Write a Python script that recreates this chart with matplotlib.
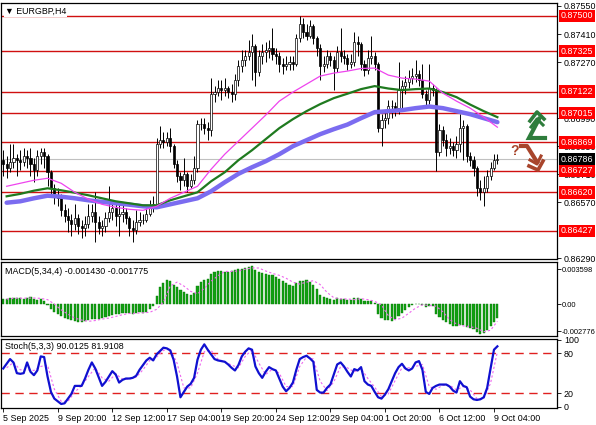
import numpy as np
import matplotlib
matplotlib.use("Agg")
import matplotlib.pyplot as plt
import matplotlib.transforms as mtransforms

plt.rcParams["font.family"] = ["Liberation Sans", "DejaVu Sans"]

# ---- price data (H4 bars, 5 Sep 04:00 .. 9 Oct 08:00) ----
closes = [
    0.86760, 0.86740, 0.86770, 0.86790, 0.86780, 0.86770, 0.86800, 0.86790, 0.86760, 0.86730,
    0.86800, 0.86820, 0.86800, 0.86720, 0.86640, 0.86600, 0.86590, 0.86530, 0.86500, 0.86480,
    0.86460, 0.86490, 0.86450, 0.86440, 0.86460, 0.86500, 0.86520, 0.86470, 0.86440, 0.86450,
    0.86490, 0.86520, 0.86540, 0.86500, 0.86510, 0.86520, 0.86490, 0.86440, 0.86430, 0.86470,
    0.86480, 0.86480, 0.86510, 0.86540, 0.86560, 0.86860, 0.86880, 0.86870, 0.86890, 0.86850,
    0.86760, 0.86700, 0.86680, 0.86710, 0.86650, 0.86680, 0.86740, 0.86960, 0.86960, 0.86940,
    0.86930, 0.87110, 0.87120, 0.87140, 0.87130, 0.87140, 0.87120, 0.87110, 0.87180, 0.87250,
    0.87280, 0.87300, 0.87320, 0.87350, 0.87220, 0.87300, 0.87320, 0.87330, 0.87340, 0.87310,
    0.87300, 0.87260, 0.87250, 0.87260, 0.87270, 0.87260, 0.87390, 0.87460, 0.87420, 0.87400,
    0.87450, 0.87390, 0.87340, 0.87250, 0.87260, 0.87300, 0.87280, 0.87240, 0.87320, 0.87300,
    0.87290, 0.87260, 0.87270, 0.87370, 0.87360, 0.87260, 0.87230, 0.87290, 0.87300, 0.87260,
    0.86940, 0.86980, 0.86990, 0.87050, 0.87050, 0.87040, 0.87130, 0.87150, 0.87170, 0.87190,
    0.87200, 0.87210, 0.87180, 0.87110, 0.87080, 0.87140, 0.87130, 0.86820, 0.86930, 0.86880,
    0.86840, 0.86850, 0.86830, 0.86860, 0.86940, 0.86950, 0.86800, 0.86780, 0.86740, 0.86640,
    0.86620, 0.86640, 0.86700, 0.86740, 0.86780, 0.86786,
]
highs = [
    0.86830, 0.86800, 0.86860, 0.86860, 0.86810, 0.86830, 0.86840, 0.86830, 0.86840, 0.86790,
    0.86830, 0.86840, 0.86840, 0.86810, 0.86730, 0.86660, 0.86640, 0.86610, 0.86560, 0.86540,
    0.86510, 0.86560, 0.86510, 0.86480, 0.86500, 0.86560, 0.86560, 0.86620, 0.86500, 0.86480,
    0.86520, 0.86650, 0.86580, 0.86560, 0.86570, 0.86560, 0.86540, 0.86500, 0.86480, 0.86530,
    0.86520, 0.86510, 0.86540, 0.86580, 0.86600, 0.86890, 0.86950, 0.86920, 0.86920, 0.86940,
    0.86860, 0.86780, 0.86720, 0.86790, 0.86720, 0.86710, 0.86800, 0.86980, 0.86990, 0.86990,
    0.86970, 0.87190, 0.87150, 0.87180, 0.87180, 0.87190, 0.87150, 0.87160, 0.87210, 0.87280,
    0.87330, 0.87330, 0.87380, 0.87410, 0.87360, 0.87330, 0.87360, 0.87370, 0.87380, 0.87440,
    0.87340, 0.87320, 0.87290, 0.87300, 0.87300, 0.87300, 0.87410, 0.87500, 0.87490, 0.87460,
    0.87480, 0.87460, 0.87400, 0.87360, 0.87300, 0.87330, 0.87320, 0.87300, 0.87350, 0.87440,
    0.87330, 0.87310, 0.87310, 0.87420, 0.87400, 0.87370, 0.87280, 0.87330, 0.87400, 0.87320,
    0.87270, 0.87010, 0.87020, 0.87080, 0.87080, 0.87070, 0.87270, 0.87180, 0.87200, 0.87230,
    0.87240, 0.87280, 0.87230, 0.87260, 0.87130, 0.87260, 0.87160, 0.87140, 0.86960, 0.86950,
    0.86910, 0.86890, 0.86870, 0.86900, 0.87010, 0.86980, 0.86960, 0.86820, 0.86800, 0.86750,
    0.86680, 0.86700, 0.86730, 0.86770, 0.86810, 0.86810,
]
lows = [
    0.86700, 0.86690, 0.86720, 0.86740, 0.86700, 0.86730, 0.86750, 0.86740, 0.86700, 0.86670,
    0.86700, 0.86760, 0.86740, 0.86650, 0.86610, 0.86560, 0.86550, 0.86500, 0.86470, 0.86420,
    0.86400, 0.86430, 0.86410, 0.86390, 0.86400, 0.86440, 0.86470, 0.86370, 0.86410, 0.86400,
    0.86420, 0.86470, 0.86480, 0.86450, 0.86400, 0.86470, 0.86460, 0.86400, 0.86370, 0.86410,
    0.86450, 0.86460, 0.86470, 0.86500, 0.86520, 0.86540, 0.86840, 0.86840, 0.86850, 0.86820,
    0.86740, 0.86670, 0.86630, 0.86650, 0.86620, 0.86640, 0.86660, 0.86720, 0.86930, 0.86910,
    0.86880, 0.86900, 0.87070, 0.87100, 0.87080, 0.87100, 0.87090, 0.87070, 0.87080, 0.87150,
    0.87220, 0.87250, 0.87280, 0.87180, 0.87150, 0.87200, 0.87260, 0.87270, 0.87290, 0.87280,
    0.87260, 0.87220, 0.87210, 0.87230, 0.87230, 0.87230, 0.87250, 0.87370, 0.87390, 0.87380,
    0.87390, 0.87360, 0.87300, 0.87180, 0.87220, 0.87240, 0.87250, 0.87130, 0.87220, 0.87270,
    0.87260, 0.87230, 0.87240, 0.87250, 0.87300, 0.87230, 0.87200, 0.87210, 0.87260, 0.87230,
    0.86920, 0.86850, 0.86940, 0.86960, 0.86990, 0.87000, 0.87010, 0.87040, 0.87110, 0.87140,
    0.87160, 0.87170, 0.87150, 0.87090, 0.87050, 0.87060, 0.87100, 0.86727, 0.86800, 0.86850,
    0.86800, 0.86810, 0.86800, 0.86790, 0.86820, 0.86780, 0.86770, 0.86750, 0.86700, 0.86600,
    0.86580, 0.86550, 0.86620, 0.86680, 0.86730, 0.86760,
]
first_open = 0.86780
opens = [first_open] + closes[:-1]

# moving averages, read every 4 bars
ma_bars = [1, 5, 9, 13, 17, 21, 25, 29, 33, 37, 41, 45, 49, 53, 57, 61, 65, 69, 73,
           77, 81, 85, 89, 93, 97, 101, 105, 109, 113, 117, 121, 125, 129, 133, 137, 141, 145]
ma_fast = [0.86650, 0.86665, 0.86680, 0.86690, 0.86665, 0.86620, 0.86585, 0.86560, 0.86545, 0.86535,
           0.86530, 0.86550, 0.86590, 0.86620, 0.86650, 0.86735, 0.86810, 0.86875, 0.86940,
           0.87005, 0.87075, 0.87120, 0.87160, 0.87200, 0.87215, 0.87225, 0.87238, 0.87240, 0.87205,
           0.87190, 0.87185, 0.87175, 0.87115, 0.87075, 0.87040, 0.86995, 0.86945]
ma_mid = [0.86600, 0.86612, 0.86628, 0.86640, 0.86630, 0.86618, 0.86605, 0.86590, 0.86575, 0.86565,
          0.86555, 0.86555, 0.86580, 0.86600, 0.86620, 0.86675, 0.86720, 0.86780, 0.86830,
          0.86885, 0.86940, 0.86985, 0.87025, 0.87060, 0.87090, 0.87112, 0.87135, 0.87150, 0.87138,
          0.87130, 0.87135, 0.87138, 0.87120, 0.87095, 0.87058, 0.87025, 0.86995]
ma_slow = [0.86568, 0.86575, 0.86590, 0.86603, 0.86598, 0.86590, 0.86580, 0.86572, 0.86565, 0.86558,
           0.86550, 0.86545, 0.86560, 0.86575, 0.86590, 0.86625, 0.86670, 0.86712, 0.86745,
           0.86775, 0.86810, 0.86850, 0.86880, 0.86910, 0.86935, 0.86958, 0.86990, 0.87020, 0.87025,
           0.87030, 0.87040, 0.87048, 0.87040, 0.87025, 0.87010, 0.86990, 0.86970]

levels = [0.87500, 0.87325, 0.87122, 0.87015, 0.86869, 0.86727, 0.86620, 0.86427]
last_price = 0.86786
price_ticks = [0.87550, 0.87410, 0.87270, 0.86990, 0.86850, 0.86710, 0.86570, 0.86290]

# MACD(5,34,4) histogram, x1e-3
macd = [
    0.50, 0.55, 0.60, 0.60, 0.65, 0.60, 0.55, 0.60, 0.70, 0.55,
    0.45, 0.55, 0.35, -0.10, -0.50, -0.80, -1.00, -1.20, -1.40, -1.50,
    -1.60, -1.70, -1.80, -1.80, -1.75, -1.65, -1.55, -1.50, -1.50, -1.45,
    -1.35, -1.25, -1.10, -1.05, -1.00, -0.95, -0.90, -0.95, -1.00, -0.90,
    -0.85, -0.90, -0.80, -0.50, -0.20, 0.80, 1.70, 2.20, 2.50, 2.40,
    2.00, 1.70, 1.40, 1.20, 1.00, 0.90, 1.10, 1.90, 2.30, 2.50,
    2.60, 3.10, 3.30, 3.40, 3.40, 3.30, 3.30, 3.40, 3.50, 3.60,
    3.60, 3.70, 3.80, 3.90, 3.50, 3.30, 3.20, 3.10, 3.00, 3.00,
    2.80, 2.60, 2.40, 2.20, 2.00, 1.90, 2.20, 2.40, 2.40, 2.50,
    2.30, 2.00, 1.50, 0.90, 0.70, 0.60, 0.50, 0.40, 0.60, 0.55,
    0.50, 0.40, 0.45, 0.60, 0.60, 0.50, 0.30, 0.30, 0.30, 0.10,
    -1.00, -1.40, -1.60, -1.60, -1.70, -1.50, -1.20, -0.90, -0.60, -0.30,
    -0.10, 0.05, 0.00, -0.10, -0.30, -0.20, -0.20, -1.00, -1.30, -1.60,
    -1.90, -2.10, -2.30, -2.30, -2.20, -2.20, -2.40, -2.50, -2.60, -2.90,
    -3.10, -3.00, -2.70, -2.30, -1.90, -1.43,
]
sig_bars = list(range(1, 146, 2))
macd_signal = [
    0.50, 0.58, 0.60, 0.60, 0.62, 0.58, 0.45, 0.00, -0.60, -1.05,
    -1.45, -1.65, -1.78, -1.70, -1.55, -1.45, -1.28, -1.10, -0.97, -0.95,
    -0.90, -0.85, -0.55, 0.20, 1.85, 2.25, 1.85, 1.30, 1.05, 1.60,
    2.35, 2.90, 3.35, 3.35, 3.40, 3.58, 3.72, 3.70, 3.40, 3.15,
    2.95, 2.65, 2.25, 2.05, 2.25, 2.40, 2.00, 1.20, 0.65, 0.52,
    0.52, 0.45, 0.55, 0.45, 0.28, -0.10, -1.20, -1.62, -1.45, -0.95,
    -0.42, -0.08, -0.15, -0.22, -0.80, -1.60, -2.05, -2.25, -2.32, -2.50,
    -2.85, -2.70, -1.775,
]

# Stochastic(5,3,3)
stoch_k = [
    57, 64, 71, 66, 50, 49, 50, 66, 52, 47,
    54, 75, 74, 45, 22, 12, 8, 4, 5, 12,
    19, 31, 31, 31, 42, 55, 66, 57, 44, 31,
    37, 45, 53, 48, 36, 40, 42, 42, 43, 46,
    55, 62, 69, 73, 69, 78, 83, 88, 87, 84,
    70, 45, 14, 22, 30, 34, 43, 70, 85, 93,
    85, 78, 71, 69, 68, 67, 63, 58, 54, 62,
    75, 82, 87, 85, 60, 50, 43, 52, 59, 56,
    54, 42, 30, 23, 28, 36, 55, 71, 74, 76,
    72, 67, 25, 21, 21, 28, 33, 48, 63, 66,
    60, 52, 45, 56, 54, 59, 38, 33, 31, 22,
    14, 12, 18, 26, 38, 50, 59, 64, 57, 54,
    57, 66, 68, 55, 22, 19, 28, 31, 33, 33,
    33, 30, 24, 21, 38, 31, 29, 15, 11, 10,
    11, 14, 28, 57, 85, 90.0125,
]
stoch_d = [
    58, 66, 55, 55, 54, 60, 62, 26, 8, 8,
    22, 31, 45, 58, 43, 38, 49, 41, 41, 44,
    55, 69, 74, 84, 86, 65, 28, 28, 50, 82,
    84, 71, 67, 62, 58, 75, 85, 65, 48, 56,
    50, 30, 30, 60, 74, 71, 38, 24, 37, 60,
    58, 52, 57, 42, 29, 15, 19, 39, 58, 58,
    60, 63, 30, 26, 32, 32, 25, 30, 25, 12,
    12, 35, 81.9108,
]

date_bars = [0, 16, 32, 48, 64, 80, 96, 112, 128, 144]
date_labels = ["5 Sep 2025", "9 Sep 20:00", "12 Sep 12:00", "17 Sep 04:00", "19 Sep 20:00",
               "24 Sep 12:00", "29 Sep 04:00", "1 Oct 20:00", "6 Oct 12:00", "9 Oct 04:00"]

FS = 6.4
x = np.arange(len(closes))
o = np.array(opens)
c = np.array(closes)
h = np.array(highs)
l = np.array(lows)

fig = plt.figure(figsize=(5.96, 4.25), dpi=100)
ax1 = fig.add_axes([0.002, 0.3906, 0.9326, 0.6024])
ax2 = fig.add_axes([0.002, 0.2094, 0.9326, 0.1741])
ax3 = fig.add_axes([0.002, 0.040, 0.9326, 0.1624])

for ax in (ax1, ax2, ax3):
    ax.set_xlim(-0.6, 162.5)
    ax.yaxis.tick_right()
    ax.tick_params(axis="y", length=3, width=0.6, labelsize=FS, pad=2, colors="black")
    ax.tick_params(axis="x", length=0)
    for s in ax.spines.values():
        s.set_linewidth(0.9)
    ax.set_xticks([])

# main chart
for lv in levels:
    ax1.axhline(lv, color="#d01010", lw=1.0, zorder=1)
ax1.axhline(last_price, color="#c0c0c0", lw=0.8, zorder=1)

ax1.vlines(x, l, h, color="black", lw=0.7, zorder=3)
bull = c >= o
body_lo = np.minimum(o, c)
body_h = np.maximum(np.abs(c - o), 0.00002)
ax1.bar(x[bull], body_h[bull], bottom=body_lo[bull], width=0.62, color="white",
        edgecolor="black", linewidth=0.5, zorder=4)
ax1.bar(x[~bull], body_h[~bull], bottom=body_lo[~bull], width=0.62, color="black",
        edgecolor="black", linewidth=0.5, zorder=4)

ax1.plot(ma_bars, ma_slow, color="#7b6cf0", lw=3.2, zorder=5, solid_capstyle="round")
ax1.plot(ma_bars, ma_mid, color="#1f7a1f", lw=1.6, zorder=6)
ax1.plot(ma_bars, ma_fast, color="#ee44ee", lw=0.9, zorder=7)

ax1.set_ylim(0.86287, 0.87565)
ax1.set_yticks(price_ticks)
ax1.set_yticklabels([f"{t:.5f}" for t in price_ticks])

tr = mtransforms.blended_transform_factory(ax1.transAxes, ax1.transData)
for lv in levels:
    ax1.text(1.006, lv, f"{lv:.5f}", transform=tr, color="white", fontsize=FS,
             va="center", ha="left", clip_on=False, zorder=10,
             bbox=dict(boxstyle="square,pad=0.2", fc="#ff0000", ec="none"))
ax1.text(1.006, last_price, f"{last_price:.5f}", transform=tr, color="white", fontsize=FS,
         va="center", ha="left", clip_on=False, zorder=10,
         bbox=dict(boxstyle="square,pad=0.2", fc="black", ec="none"))
ax1.text(0.006, 0.985, "\u25BC EURGBP,H4", transform=ax1.transAxes, fontsize=FS,
         va="top", ha="left", zorder=11,
         bbox=dict(boxstyle="square,pad=0.1", fc="white", ec="none"))

# MACD
m = np.array(macd) / 1000.0
ax2.bar(x, m, width=0.62, color="#11a011", edgecolor="#0a7a0a", linewidth=0.3, zorder=2)
ax2.plot(sig_bars, np.array(macd_signal) / 1000.0, color="#ee66ee", lw=0.8,
         ls=(0, (2, 2)), zorder=3)
ax2.set_ylim(-0.00329, 0.00432)
ax2.set_yticks([0.003598, 0.0, -0.002776])
ax2.set_yticklabels(["0.003598", "0.00", "-0.002776"])
ax2.tick_params(axis="y", labelsize=5.4, pad=0.5)
ax2.text(0.006, 0.93, "MACD(5,34,4) -0.001430 -0.001775", transform=ax2.transAxes,
         fontsize=FS, va="top", ha="left")

# Stochastic
ax3.axhline(80, color="#e02020", lw=1.0, ls=(0, (6, 4)), zorder=1)
ax3.axhline(20, color="#e02020", lw=1.0, ls=(0, (6, 4)), zorder=1)
ax3.plot(x, stoch_k, color="#1010d0", lw=1.6, zorder=3)
ax3.plot(sig_bars, stoch_d, color="#ee66ee", lw=0.8, ls=(0, (2, 2)), zorder=2)
ax3.set_ylim(-2, 101)
ax3.set_yticks([100, 80, 20, 0])
ax3.set_yticklabels(["100", "80", "20", "0"])
ax3.text(0.006, 0.95, "Stoch(5,3,3) 90.0125 81.9108", transform=ax3.transAxes,
         fontsize=FS, va="top", ha="left", zorder=5,
         bbox=dict(boxstyle="square,pad=0.1", fc="white", ec="none"))
ax3.set_xticks(date_bars)
ax3.set_xticklabels(date_labels, ha="left")
ax3.tick_params(axis="x", length=3, width=0.6, labelsize=FS, pad=1, direction="out")

# signal arrows drawn in pixel coordinates
ov = fig.add_axes([0, 0, 1, 1], zorder=20)
ov.set_xlim(0, 596)
ov.set_ylim(425, 0)
ov.axis("off")
ov.patch.set_alpha(0)
green = "#2e7d3c"
ov.plot([545, 529, 539], [138, 138, 119], color=green, lw=3.0, solid_joinstyle="miter")
ov.plot([530, 537, 544], [121, 112, 119], color=green, lw=2.6)
ov.plot([531, 537, 543], [127, 119, 125], color=green, lw=2.2)
brown = "#a8452c"
ov.text(515, 151, "?", color=brown, fontsize=10, fontweight="bold", ha="center", va="center")
ov.plot([521, 527, 537], [146, 146, 162], color=brown, lw=3.0)
ov.plot([529, 538, 543], [166, 170, 161], color=brown, lw=2.6)
ov.plot([530, 537, 541], [160, 164, 156], color=brown, lw=2.2)

fig.savefig("out.png", dpi=100)
